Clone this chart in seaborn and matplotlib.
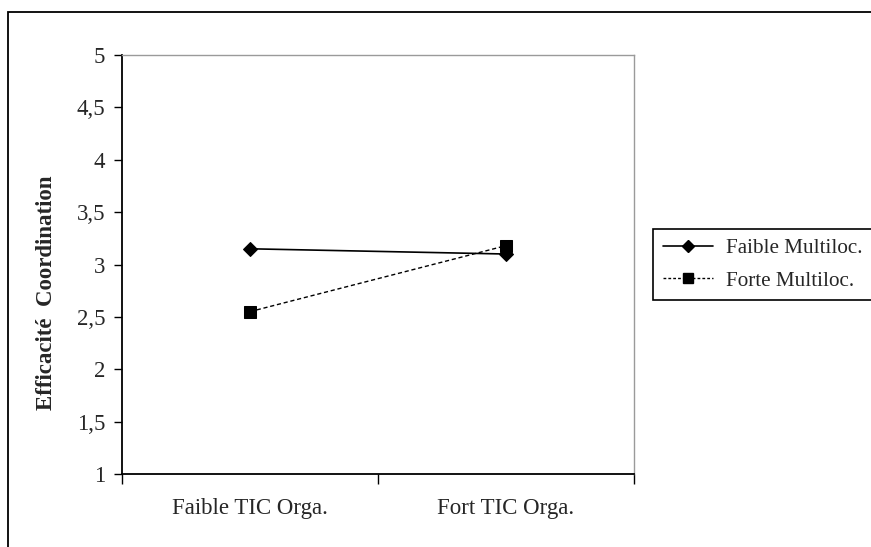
import matplotlib
matplotlib.use("Agg")
import matplotlib.pyplot as plt
import seaborn as sns
import pandas as pd
from matplotlib.lines import Line2D
from matplotlib.patches import Rectangle

categories = ["Faible TIC Orga.", "Fort TIC Orga."]
series_names = ["Faible Multiloc.", "Forte Multiloc."]
faible_multiloc = [3.15, 3.10]
forte_multiloc = [2.55, 3.18]
y_ticks = [1, 1.5, 2, 2.5, 3, 3.5, 4, 4.5, 5]
y_tick_labels = ["1", "1,5", "2", "2,5", "3", "3,5", "4", "4,5", "5"]
y_label = "Efficacité  Coordination"

df = pd.DataFrame({
    "tic": categories * 2,
    "val": faible_multiloc + forte_multiloc,
    "multi": [series_names[0]] * 2 + [series_names[1]] * 2,
})

sns.set_style("white")
plt.rcParams["font.family"] = ["Liberation Serif", "DejaVu Serif"]

fig = plt.figure(figsize=(8.71, 5.47), dpi=100)
ax = fig.add_axes([122 / 871, 1 - 474 / 547, (634 - 122) / 871, (474 - 55) / 547])

styles = {series_names[0]: ("-", "D", 7.5), series_names[1]: ("--", "s", 8)}
for name in series_names:
    sub = df[df["multi"] == name]
    ls, mk, ms = styles[name]
    sns.lineplot(data=sub, x="tic", y="val", ax=ax, color="black",
                 linestyle=ls, marker=mk, markersize=ms, linewidth=1.2 if ls == "-" else 1.0,
                 markeredgecolor="black", markerfacecolor="black", legend=False)
for line, name in zip(ax.get_lines(), series_names):
    line.set_linestyle(styles[name][0])
    if styles[name][0] == "--":
        line.set_dashes([3, 2])

ax.set_xlim(-0.5, 1.5)
ax.set_ylim(1, 5)
ax.set_yticks(y_ticks)
ax.set_yticklabels(y_tick_labels, fontsize=16.5)
ax.set_xticks([-0.5, 0.5, 1.5])
ax.set_xticklabels([])
ax.set_xticks([0, 1], minor=True)
ax.set_xticklabels(categories, minor=True, fontsize=16.5)
ax.tick_params(axis="x", which="minor", length=0, pad=17)
ax.tick_params(axis="x", which="major", direction="out", length=7, width=1, color="black", bottom=True)
ax.tick_params(axis="y", direction="out", length=6, width=1, color="black", left=True, pad=6)
ax.set_xlabel("")
ax.set_ylabel(y_label, fontsize=16.5, fontweight="bold")
ax.yaxis.set_label_coords(-65 / 512, 0.432)

for s in ["left", "bottom"]:
    ax.spines[s].set_color("black")
    ax.spines[s].set_linewidth(1.3)
for s in ["top", "right"]:
    ax.spines[s].set_color("#9a9a9a")
    ax.spines[s].set_linewidth(1.0)

handles = [
    Line2D([], [], color="black", linestyle="-", marker="D", markersize=6.5, linewidth=1.2),
    Line2D([], [], color="black", linestyle=(0, (2, 1.5)), marker="s", markersize=7.5, linewidth=1.0),
]
leg = fig.legend(handles, series_names, loc="upper left",
                 bbox_to_anchor=(653 / 871, 1 - 229 / 547), fontsize=15.2,
                 frameon=True, fancybox=False, edgecolor="black", framealpha=1,
                 handlelength=2.4, handletextpad=0.6, borderpad=0.45, labelspacing=0.6,
                 borderaxespad=0)
leg.get_frame().set_linewidth(1.2)

fig.patches.append(Rectangle((8 / 871, -0.1), 1.2, 1.1 - 12 / 547,
                             transform=fig.transFigure, fill=False,
                             edgecolor="black", linewidth=1.3, zorder=10))

fig.savefig("out.png", dpi=100)
